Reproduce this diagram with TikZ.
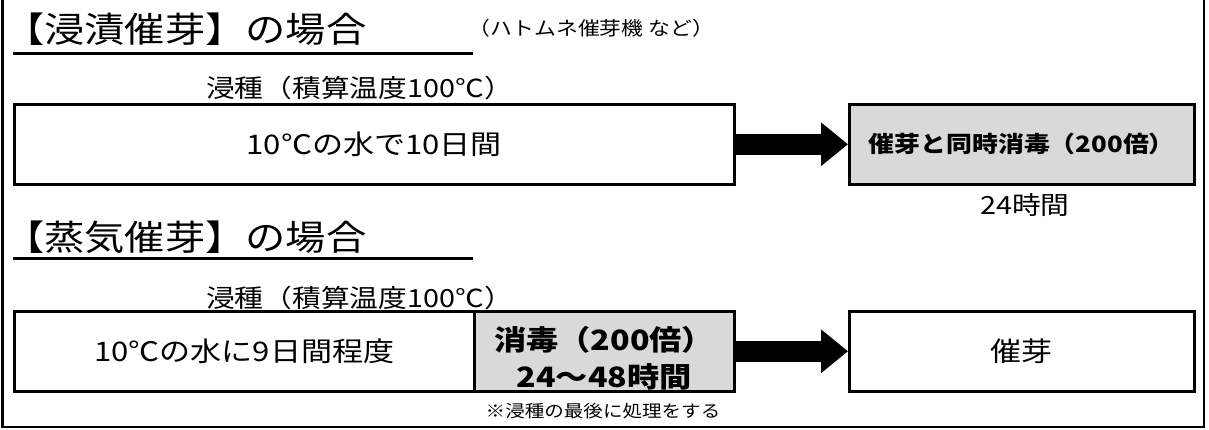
\documentclass[tikz,border=0pt]{standalone}
\usepackage{fontspec}
\newfontfamily\jp[FakeStretch=1.15]{Noto Sans CJK JP}
\usetikzlibrary{arrows.meta,positioning}
\definecolor{boxgray}{RGB}{217,217,217}
\newcommand\fsz[1]{\fontsize{#1}{#1}\selectfont}

\begin{document}
\begin{tikzpicture}[x=1pt,y=-1pt,
  every node/.style={font=\jp,inner sep=0pt},
  heading/.style={anchor=west,font=\jp\fsz{35pt}},
  soaklabel/.style={anchor=west,font=\jp\fsz{25pt}},
  stagebox/.style={draw,line width=2.5pt,anchor=north west,minimum height=80pt,font=\jp\fsz{27pt}},
  disinfect/.style={stagebox,fill=boxgray,font=\jp\bfseries\fsz{22.5pt}},
  blockarrow/.style={line width=21pt,-{Triangle[length=27pt,width=42pt]}}]
\useasboundingbox (0,0) rectangle (1209,429);
\draw[line width=2.5pt] (2.5,-2) -- (2.5,427) -- (1204,427) -- (1204,-2);

% soaking germination
\node[heading] (t1) at (4,29) {【浸漬催芽】の場合};
\draw[line width=3pt] (13,53) -- (473,53);
\node[anchor=west,font=\jp\fsz{19pt}] (n1) at (468,28) {（ハトムネ催芽機\ など）};
\node[soaklabel] (s1) at (206,88) {浸種（積算温度100℃）};
\node[stagebox,minimum width=720pt] (b1) at (13,103) {10℃の水で10日間};
\node[disinfect,minimum width=345pt] (b2) at (848,103) {催芽と同時消毒（200倍）};
\node[font=\jp\fsz{25pt}] (h1) at (1025,205) {24時間};
\draw[blockarrow] (b1.east) -- (b2.west);

% steam germination
\node[heading] (t2) at (4,237) {【蒸気催芽】の場合};
\draw[line width=3pt] (13,258) -- (473,258);
\node[soaklabel] (s2) at (206,298) {浸種（積算温度100℃）};
\node[stagebox,minimum width=460pt] (b3) at (13,310) {10℃の水に9日間程度};
\node[disinfect,minimum width=260pt,
  label={[yshift=-7pt,align=center,font=\jp\bfseries\fsz{28pt}]center:{消毒（200倍）\\[9pt]24～48時間}}] (b4) at (473,310) {};
\node[stagebox,minimum width=345pt] (b5) at (848,310) {催芽};
\node[font=\jp\fsz{17pt}] (n2) at (603,411) {※浸種の最後に処理をする};
\draw[blockarrow] (b4.east) -- (b5.west);
\end{tikzpicture}
\end{document}
